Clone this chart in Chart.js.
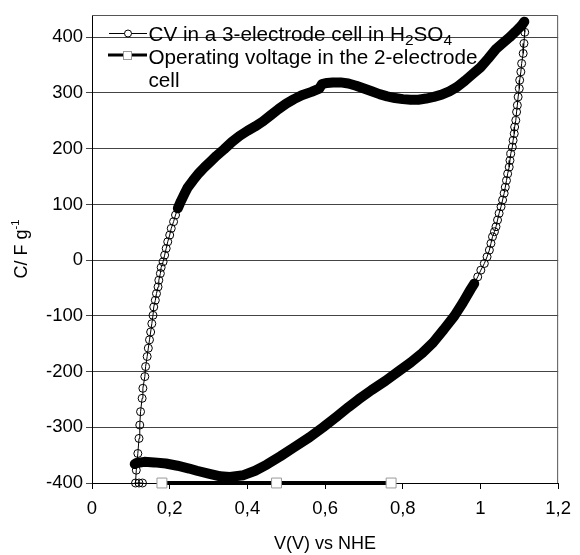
<!DOCTYPE html>
<html>
<head>
<meta charset="utf-8">
<script src="https://cdn.jsdelivr.net/npm/chart.js@4.4.0/dist/chart.umd.min.js"></script>
<style>
  html, body { margin: 0; padding: 0; background: #fff; }
</style>
</head>
<body>
<canvas id="myChart" width="580" height="555"></canvas>
<script>
// CV curve, split where the markers are sparse (vertices) and dense (sweeps)
const leftTurnV = [0.130, 0.121, 0.112, 0.114, 0.118, 0.121, 0.123, 0.125, 0.129, 0.131, 0.136, 0.138, 0.142, 0.145, 0.148, 0.151, 0.154, 0.157, 0.159, 0.163, 0.166, 0.170, 0.172, 0.176, 0.178, 0.183, 0.187, 0.191, 0.195, 0.200, 0.204, 0.210, 0.215, 0.221];
const leftTurnC = [-400, -400, -400, -377, -347, -320, -296, -272, -248, -230, -209, -191, -173, -158, -143, -129, -114, -99, -84, -72, -60, -48, -36, -24, -13, -3, 9, 21, 33, 45, 57, 69, 81, 93];

const upperSweepV = [0.221, 0.229, 0.238, 0.246, 0.26, 0.275, 0.29, 0.305, 0.32, 0.34, 0.36, 0.38, 0.40, 0.42, 0.44, 0.46, 0.48, 0.50, 0.52, 0.54, 0.565, 0.585, 0.592, 0.605, 0.62, 0.64, 0.66, 0.68, 0.70, 0.72, 0.74, 0.76, 0.78, 0.80, 0.82, 0.84, 0.86, 0.88, 0.90, 0.92, 0.94, 0.96, 0.98, 1.00, 1.02, 1.04, 1.06, 1.075, 1.09, 1.10, 1.108, 1.113];
const upperSweepC = [93, 106, 119, 130, 143, 156, 167, 177, 187, 199, 212, 223, 232, 240, 249, 260, 271, 281, 289, 296, 302, 308, 316, 318, 319, 319, 317, 313, 308, 303, 298, 294, 291, 289, 288, 288, 290, 293, 297, 303, 311, 322, 334, 346, 362, 379, 391, 400, 410, 417, 423, 428];

const rightTurnV = [1.113, 1.114, 1.112, 1.110, 1.106, 1.104, 1.101, 1.100, 1.097, 1.095, 1.093, 1.091, 1.088, 1.087, 1.084, 1.082, 1.078, 1.076, 1.074, 1.070, 1.067, 1.064, 1.061, 1.057, 1.053, 1.048, 1.044, 1.040, 1.036, 1.031, 1.027, 1.023, 1.017, 1.010, 1.001, 0.993, 0.984];
const rightTurnC = [428, 409, 389, 371, 353, 338, 323, 308, 293, 278, 266, 251, 239, 227, 215, 203, 191, 179, 167, 155, 143, 131, 120, 108, 96, 84, 72, 60, 51, 42, 30, 18, 6, -6, -18, -30, -42];

const lowerSweepV = [0.984, 0.975, 0.955, 0.933, 0.905, 0.878, 0.850, 0.820, 0.788, 0.755, 0.720, 0.686, 0.660, 0.630, 0.595, 0.560, 0.520, 0.485, 0.450, 0.420, 0.390, 0.355, 0.330, 0.300, 0.270, 0.250, 0.220, 0.190, 0.160, 0.135, 0.115, 0.110];
const lowerSweepC = [-42, -52, -76, -100, -125, -148, -167, -184, -200, -217, -233, -250, -264, -281, -300, -318, -336, -352, -367, -378, -386, -389, -388, -383, -378, -374, -369, -365, -363, -362, -364, -366];

// operating voltage of the 2-electrode cell
const opVoltageV = [0.18, 0.475, 0.77];
const opVoltageC = [-400, -400, -400];

const xTicks = [0, 0.2, 0.4, 0.6, 0.8, 1, 1.2];
const xTickLabels = ['0', '0,2', '0,4', '0,6', '0,8', '1', '1,2'];
const yTicks = [-400, -300, -200, -100, 0, 100, 200, 300, 400];

const cvLabel = [['CV in a 3-electrode cell in H'], ['2', 'sub'], ['SO'], ['4', 'sub']];
const opLabel = ['Operating voltage in the 2-electrode', 'cell'];
const xTitle = 'V(V) vs NHE';
const yTitle = [['C/ F g'], ['-1', 'sup']];

const family = 'Arial, "Liberation Sans", sans-serif';

function pts(xs, ys) {
  return xs.map((x, i) => ({ x: x, y: ys[i] }));
}

const sparse = {
  showLine: true, borderColor: '#000', borderWidth: 1,
  pointRadius: 4, pointBorderWidth: 1, pointBorderColor: '#000',
  pointBackgroundColor: 'rgba(0,0,0,0)', clip: false
};
const dense = Object.assign({}, sparse, {
  borderWidth: 10, borderJoinStyle: 'round', borderCapStyle: 'round'
});

// text with sub/superscript pieces
function runsWidth(ctx, runs, size, small) {
  let w = 0;
  for (const [t, kind] of runs) {
    ctx.font = (kind ? size * small : size) + 'px ' + family;
    w += ctx.measureText(t).width;
  }
  return w;
}
function drawRuns(ctx, x, y, runs, size, small) {
  for (const [t, kind] of runs) {
    const s = kind ? size * small : size;
    ctx.font = s + 'px ' + family;
    let dy = 0;
    if (kind === 'sub') dy = size * 0.22;
    if (kind === 'sup') dy = -size * 0.42;
    ctx.fillText(t, x, y + dy);
    x += ctx.measureText(t).width;
  }
}

const extras = {
  id: 'extras',
  beforeDatasetsDraw(chart) {
    const { ctx, chartArea: a } = chart;
    ctx.save();
    ctx.strokeStyle = '#555';
    ctx.lineWidth = 1;
    ctx.beginPath();
    ctx.moveTo(a.left, a.top + 0.5);
    ctx.lineTo(a.right - 0.5, a.top + 0.5);
    ctx.lineTo(a.right - 0.5, a.bottom);
    ctx.stroke();
    ctx.restore();
  },
  afterDraw(chart) {
    const { ctx, chartArea: a } = chart;
    ctx.save();
    ctx.fillStyle = '#000';
    ctx.textBaseline = 'alphabetic';

    // x title
    ctx.font = '18px ' + family;
    ctx.textAlign = 'center';
    ctx.fillText(xTitle, (a.left + a.right) / 2, 549);

    // y title, rotated
    ctx.textAlign = 'left';
    ctx.save();
    ctx.translate(27, 249);
    ctx.rotate(-Math.PI / 2);
    const w = runsWidth(ctx, yTitle, 18, 0.62);
    drawRuns(ctx, -w / 2, 0, yTitle, 18, 0.62);
    ctx.restore();

    // legend
    ctx.strokeStyle = '#000';
    ctx.lineWidth = 1;
    ctx.beginPath();
    ctx.moveTo(109, 33.5);
    ctx.lineTo(147, 33.5);
    ctx.stroke();
    ctx.beginPath();
    ctx.arc(128, 33.5, 3.5, 0, Math.PI * 2);
    ctx.fillStyle = '#fff';
    ctx.fill();
    ctx.stroke();

    ctx.lineWidth = 3;
    ctx.beginPath();
    ctx.moveTo(108, 55);
    ctx.lineTo(147, 55);
    ctx.stroke();
    ctx.fillStyle = '#fff';
    ctx.strokeStyle = '#999';
    ctx.lineWidth = 1;
    ctx.fillRect(123, 51, 8, 8);
    ctx.strokeRect(123.5, 51.5, 8, 8);

    ctx.fillStyle = '#000';
    drawRuns(ctx, 148.5, 40.5, cvLabel, 20.7, 0.75);
    ctx.font = '20.7px ' + family;
    ctx.fillText(opLabel[0], 148.5, 63.5);
    ctx.fillText(opLabel[1], 148.5, 87);
    ctx.restore();
  }
};

const ctx = document.getElementById('myChart');

const myChart = new Chart(ctx, {
  type: 'scatter',
  data: {
    datasets: [
      Object.assign({ label: 'CV in a 3-electrode cell in H2SO4', data: pts(upperSweepV, upperSweepC) }, dense),
      Object.assign({ label: 'cv-right', data: pts(rightTurnV, rightTurnC) }, sparse),
      Object.assign({ label: 'cv-lower', data: pts(lowerSweepV, lowerSweepC) }, dense),
      Object.assign({ label: 'cv-left', data: pts(leftTurnV, leftTurnC) }, sparse),
      {
        label: 'Operating voltage in the 2-electrode cell',
        data: pts(opVoltageV, opVoltageC),
        showLine: true, borderColor: '#000', borderWidth: 4,
        pointStyle: 'rect', pointRadius: 7, pointBorderWidth: 1,
        pointBorderColor: '#999', pointBackgroundColor: '#fff',
        clip: false, order: -1
      }
    ]
  },
  options: {
    responsive: false,
    animation: false,
    events: [],
    layout: { padding: { top: 15, right: 19, left: 0, bottom: 0 } },
    plugins: {
      legend: { display: false },
      tooltip: { enabled: false }
    },
    scales: {
      x: {
        type: 'linear', min: 0, max: 1.2,
        afterBuildTicks: s => { s.ticks = xTicks.map(v => ({ value: v })); },
        afterFit: s => { s.height = 72; },
        ticks: {
          callback: (v, i) => xTickLabels[i],
          font: { family: family, size: 18.5 }, color: '#000',
          padding: 9, maxRotation: 0, autoSkip: false
        },
        grid: { drawOnChartArea: false, drawTicks: true, tickLength: 6, color: '#000' },
        border: { color: '#000' }
      },
      y: {
        min: -400, max: 440,
        afterBuildTicks: s => { s.ticks = yTicks.map(v => ({ value: v })); },
        afterFit: s => { s.width = 92; },
        ticks: {
          font: { family: family, size: 18.5 }, color: '#000',
          padding: 3, autoSkip: false
        },
        grid: { color: '#444', tickLength: 6, drawTicks: true },
        border: { color: '#000' }
      }
    }
  },
  plugins: [extras]
});
</script>
</body>
</html>
